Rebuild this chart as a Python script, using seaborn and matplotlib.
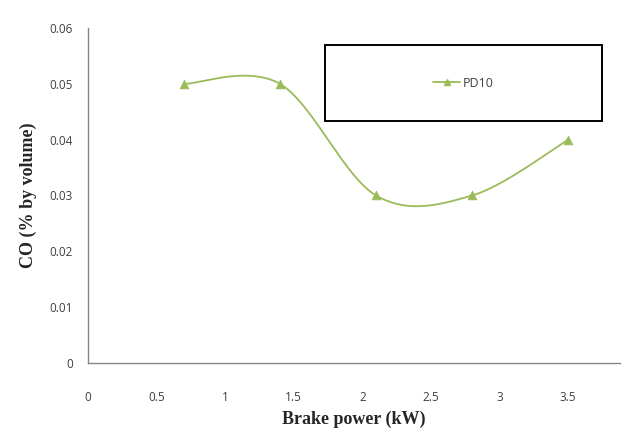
import numpy as np
import pandas as pd
import matplotlib
matplotlib.use("Agg")
import matplotlib.pyplot as plt
from matplotlib.lines import Line2D
from matplotlib.patches import Rectangle
import seaborn as sns

# data
brake_power = [0.7, 1.4, 2.1, 2.8, 3.5]
co_pd10 = [0.05, 0.05, 0.03, 0.03, 0.04]
series_name = "PD10"
x_ticks = [0, 0.5, 1, 1.5, 2, 2.5, 3, 3.5]
y_ticks = [0, 0.01, 0.02, 0.03, 0.04, 0.05, 0.06]

green = "#9BBB59"


def smooth_curve(xs, ys, n=40):
    # Excel style smoothing: Catmull-Rom through the points (ends duplicated)
    p = np.column_stack([xs, ys]).astype(float)
    p = np.vstack([p[0], p, p[-1]])
    out = []
    for i in range(1, len(p) - 2):
        p0, p1, p2, p3 = p[i - 1], p[i], p[i + 1], p[i + 2]
        c1 = p1 + (p2 - p0) / 6
        c2 = p2 - (p3 - p1) / 6
        t = np.linspace(0, 1, n)[:, None]
        seg = ((1 - t) ** 3) * p1 + 3 * ((1 - t) ** 2) * t * c1 + 3 * (1 - t) * t ** 2 * c2 + t ** 3 * p2
        out.append(seg if i == 1 else seg[1:])
    out = np.vstack(out)
    return out[:, 0], out[:, 1]


sns.set_style("white")
plt.rcParams["font.family"] = ["Open Sans", "DejaVu Sans"]

fig = plt.figure(figsize=(6.24, 4.33), dpi=100)
ax = fig.add_axes([0.141, 0.162, 0.853, 0.773])

sx, sy = smooth_curve(brake_power, co_pd10)
curve = pd.DataFrame({"x": sx, "y": sy})
pts = pd.DataFrame({"x": brake_power, "y": co_pd10})
sns.lineplot(data=curve, x="x", y="y", ax=ax, color=green, linewidth=1.3, sort=False)
sns.scatterplot(data=pts, x="x", y="y", ax=ax, color=green, marker="^", s=40,
                edgecolor=green, linewidth=0.5, zorder=3)

ax.set_xlim(0, 3.88)
ax.set_ylim(0, 0.06)
ax.set_xticks(x_ticks)
ax.set_xticklabels([f"{v:g}" for v in x_ticks])
ax.set_yticks(y_ticks)
ax.set_yticklabels([f"{v:g}" for v in y_ticks])
ax.tick_params(axis="both", length=0, labelsize=8.5, labelcolor="#404040")
ax.tick_params(axis="x", pad=20)
ax.tick_params(axis="y", pad=11)

for side in ["top", "right"]:
    ax.spines[side].set_visible(False)
for side in ["left", "bottom"]:
    ax.spines[side].set_color("#868686")
    ax.spines[side].set_linewidth(1.0)

ax.set_xlabel("Brake power (kW)", fontsize=13, fontweight="bold",
              family="Liberation Serif", labelpad=5)
ax.set_ylabel("CO (% by volume)", fontsize=13, fontweight="bold",
              family="Liberation Serif", labelpad=9)

# legend box
ax.add_patch(Rectangle((0.445, 0.722), 0.521, 0.227, transform=ax.transAxes,
                       fill=False, edgecolor="black", linewidth=1.4, zorder=4,
                       clip_on=False))
handle = Line2D([], [], color=green, marker="^", markersize=5, linewidth=1.3)
ax.legend([handle], [series_name], loc="center", bbox_to_anchor=(0.705, 0.836),
          frameon=False, fontsize=9, handlelength=2.2, handletextpad=0.2,
          labelcolor="#404040")

fig.savefig("out.png", dpi=100)
